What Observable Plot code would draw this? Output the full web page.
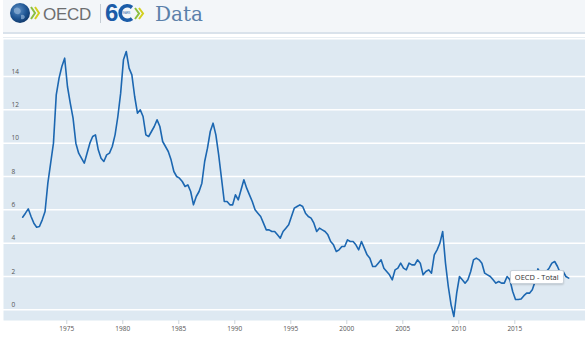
<!DOCTYPE html>
<html><head><meta charset="utf-8">
<script src="https://cdn.jsdelivr.net/npm/d3@7"></script>
<script src="https://cdn.jsdelivr.net/npm/@observablehq/plot@0.6"></script>
<style>
html,body{margin:0;padding:0;background:#fff}
body{width:585px;height:337px;overflow:hidden;position:relative;font-family:"Open Sans",sans-serif}
#hdr{position:absolute;left:0;top:0}
#chart{position:absolute;left:0;top:39px}
#tip{position:absolute;background:#fff;border:1px solid #c9d2da;border-radius:2px;box-shadow:0 1px 2px rgba(0,0,0,.15);font:7.5px "Open Sans",sans-serif;color:#333;padding:1px 4px;white-space:nowrap;line-height:10px}
</style></head>
<body>
<svg id="hdr" width="585" height="39">
  <defs>
    <radialGradient id="gl" cx="40%" cy="35%" r="70%">
      <stop offset="0" stop-color="#5d8fc4"/><stop offset="0.6" stop-color="#1e5593"/><stop offset="1" stop-color="#0e3566"/>
    </radialGradient>
  </defs>
  <rect x="3" y="0" width="582" height="32" fill="#f3f6f9"/>
  <rect x="3" y="32" width="582" height="2" fill="#d9e2eb"/>
  <rect x="3" y="37" width="582" height="1" fill="#e8eef3"/>
  <circle cx="20" cy="13" r="10" fill="url(#gl)"/>
  <path d="M14 9 q3 -3 6 0 q2 3 -1 5 q-3 1 -5 -2z M21 15 q3 -1 4 2 q-1 3 -4 2z" fill="#8fb0d4" opacity="0.7"/>
  <polyline points="31,7 35,13 31,19" fill="none" stroke="#8cbf3f" stroke-width="2"/>
  <polyline points="35,7 39,13 35,19" fill="none" stroke="#d3cf1f" stroke-width="2"/>
  <text x="43" y="19.5" font-family="Liberation Sans" font-size="17" fill="#6d6e70" letter-spacing="-0.3">OECD</text>
  <line x1="100.5" y1="4" x2="100.5" y2="23" stroke="#c4ccd4" stroke-width="1"/>
  <text x="105" y="21" font-family="Liberation Sans" font-weight="bold" font-size="24" fill="#1b5ca8">6</text>
  <path d="M132 7.5 A7.2 7.2 0 1 0 132 18.5" fill="none" stroke="#1b5ca8" stroke-width="3.6"/>
  <text x="121.5" y="14.2" font-family="Liberation Sans" font-size="2.6" fill="#1b5ca8">YEARS</text>
  <polyline points="135,8 139,13.5 135,19" fill="none" stroke="#8cbf3f" stroke-width="2"/>
  <polyline points="139,8 143,13.5 139,19" fill="none" stroke="#d3cf1f" stroke-width="2"/>
  <text x="155" y="20.5" font-family="DejaVu Serif" font-size="20" fill="#5b80aa">Data</text>
</svg>
<div id="chart"></div>
<script>
// OECD - Total, CPI annual growth (%), quarterly, 1971-Q1 .. 2019-Q4
const startYear = 1971;
const values = [
  5.56, 5.8, 6.06, 5.6,     // 1971
  5.2, 4.96, 5.0, 5.4,      // 1972
  5.9, 7.6, 8.8, 10.0,      // 1973
  12.9, 13.9, 14.6, 15.1,   // 1974
  13.4, 12.4, 11.5, 10.0,   // 1975
  9.4, 9.1, 8.8, 9.4,       // 1976
  10.0, 10.4, 10.5, 9.6,    // 1977
  9.1, 8.9, 9.3, 9.4,       // 1978
  9.8, 10.5, 11.6, 13.0,    // 1979
  15.0, 15.5, 14.5, 14.1,   // 1980
  12.8, 11.8, 12.0, 11.6,   // 1981
  10.5, 10.4, 10.7, 11.0,   // 1982
  11.4, 11.0, 10.1, 9.8,    // 1983
  9.5, 9.0, 8.3, 8.0,       // 1984
  7.9, 7.7, 7.4, 7.5,       // 1985
  7.1, 6.3, 6.8, 7.1,       // 1986
  7.6, 8.9, 9.7, 10.7,      // 1987
  11.2, 10.5, 9.3, 7.9,     // 1988
  6.5, 6.5, 6.3, 6.3,       // 1989
  6.9, 6.6, 7.2, 7.8,       // 1990
  7.3, 6.9, 6.5, 6.0,       // 1991
  5.8, 5.6, 5.2, 4.8,       // 1992
  4.8, 4.7, 4.7, 4.5,       // 1993
  4.3, 4.7, 4.9, 5.1,       // 1994
  5.6, 6.1, 6.2, 6.3,       // 1995
  6.2, 5.8, 5.6, 5.5,       // 1996
  5.2, 4.7, 4.9, 4.8,       // 1997
  4.7, 4.5, 4.1, 3.9,       // 1998
  3.5, 3.6, 3.8, 3.8,       // 1999
  4.2, 4.1, 4.1, 3.9,       // 2000
  3.6, 4.1, 3.7, 3.3,       // 2001
  3.1, 2.6, 2.6, 2.8,       // 2002
  3.0, 2.5, 2.3, 2.1,       // 2003
  1.8, 2.4, 2.5, 2.8,       // 2004
  2.5, 2.4, 2.8, 2.7,       // 2005
  2.7, 3.0, 2.8, 2.1,       // 2006
  2.3, 2.4, 2.2, 3.3,       // 2007
  3.6, 4.0, 4.7, 2.8,       // 2008
  1.4, 0.3, -0.4, 1.0,      // 2009
  2.0, 1.8, 1.6, 1.8,       // 2010
  2.3, 3.0, 3.1, 3.0,       // 2011
  2.8, 2.2, 2.1, 2.0,       // 2012
  1.8, 1.6, 1.7, 1.6,       // 2013
  1.6, 2.0, 1.8, 1.1,       // 2014
  0.62, 0.62, 0.65, 0.85,   // 2015
  1.0, 1.0, 1.2, 1.7,       // 2016
  2.46, 2.2, 2.2, 2.3,      // 2017
  2.5, 2.8, 2.9, 2.6,       // 2018
  2.2, 2.3, 2.0, 1.9        // 2019
];
const quarterLabels = values.map((_, i) => `${startYear + Math.floor(i / 4)}-Q${(i % 4) + 1}`);
const yTicks = [0, 2, 4, 6, 8, 10, 12, 14];
const xTicks = [1975, 1980, 1985, 1990, 1995, 2000, 2005, 2010, 2015];
const seriesName = "OECD - Total";
const tooltipAt = {x: 2014.6, y: 1.96};

const data = values.map((v, i) => ({label: quarterLabels[i], t: startYear + i / 4 + 0.06, v}));

const plot = Plot.plot({
  width: 585, height: 298,
  marginLeft: 3, marginRight: 0, marginTop: 0, marginBottom: 17,
  style: {background: "transparent", fontFamily: "Open Sans", fontSize: "6.5px", color: "#555", overflow: "visible"},
  x: {domain: [1969.35, 2021.31], axis: null, label: null},
  y: {domain: [-0.64, 16.22], axis: null, label: null},
  marks: [
    Plot.frame({fill: "#dee9f2", stroke: "none"}),
    Plot.ruleY(yTicks, {y: d => d, stroke: "#ffffff", strokeWidth: 1.5}),
    Plot.text(yTicks, {y: d => d, text: d => String(d), frameAnchor: "left", textAnchor: "start", dx: 8, dy: -5, fill: "#555", fontSize: 6.5}),
    Plot.axisX(xTicks, {tickSize: 4, tickPadding: 2, stroke: "#cdd5dc", fill: "#555", tickFormat: d => String(d), fontSize: 6.5, label: null}),
    Plot.line(data, {x: "t", y: "v", stroke: "#1c67b1", strokeWidth: 1.6})
  ]
});
const holder = document.getElementById("chart");
holder.appendChild(plot);

const tip = document.createElement("div");
tip.id = "tip";
tip.textContent = seriesName;
const sx = plot.scale("x"), sy = plot.scale("y");
tip.style.left = sx.apply(tooltipAt.x) + "px";
tip.style.top = (39 + sy.apply(tooltipAt.y) - 7) + "px";
document.body.appendChild(tip);
</script>
</body></html>
